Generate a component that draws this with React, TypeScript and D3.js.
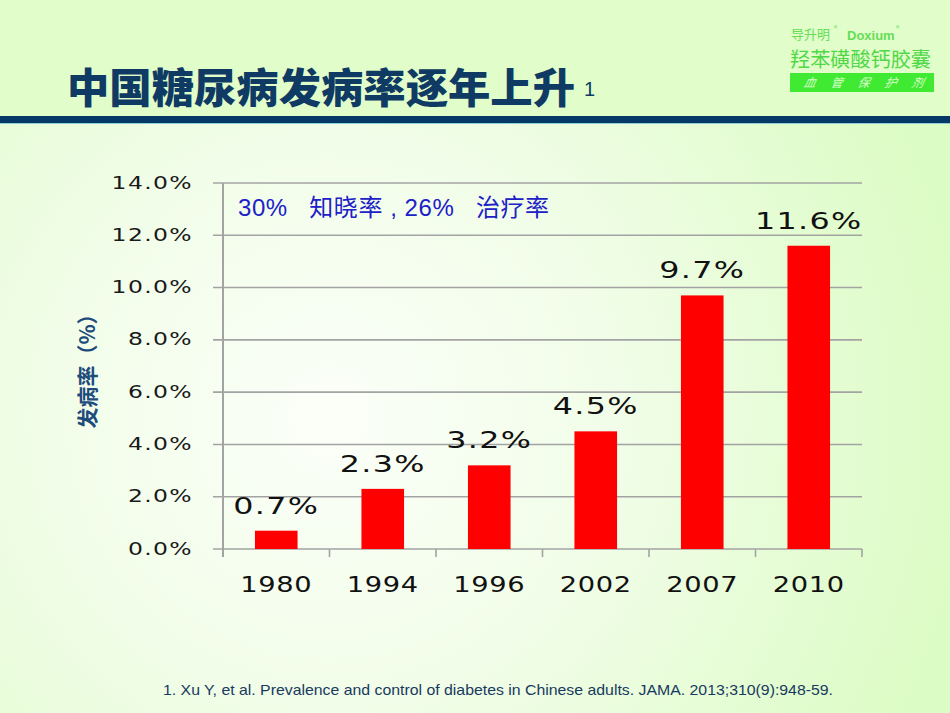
import * as React from "react"
import * as d3 from "d3"

const WIDTH = 950
const HEIGHT = 713

const years = ["1980", "1994", "1996", "2002", "2007", "2010"]
const rates = [0.7, 2.3, 3.2, 4.5, 9.7, 11.6]
const yTicks = [0, 2, 4, 6, 8, 10, 12, 14]
const badgeWords = ["血", "管", "保", "护", "剂"]

const NAVY = "#0e3a63"
const GRID = "#a3a3a3"
const CJK = "'Noto Sans CJK SC', sans-serif"
const NUM = "'DejaVu Sans', sans-serif"

const plot = { left: 223, right: 862, top: 183, bottom: 549 }

export default function App() {
  const chartRef = React.useRef<SVGGElement>(null)

  React.useEffect(() => {
    const g = d3.select(chartRef.current)
    g.selectAll("*").remove()

    const x = d3.scaleBand().domain(years).range([plot.left, plot.right])
    const y = d3.scaleLinear().domain([0, 14]).range([plot.bottom, plot.top])
    const step = x.step()
    const barW = step * 0.4

    // horizontal gridlines with short left ticks
    g.selectAll(".grid")
      .data(yTicks)
      .enter()
      .append("line")
      .attr("x1", plot.left - 10)
      .attr("x2", plot.right)
      .attr("y1", d => y(d))
      .attr("y2", d => y(d))
      .attr("stroke", GRID)
      .attr("stroke-width", 1.6)

    g.selectAll(".ylab")
      .data(yTicks)
      .enter()
      .append("text")
      .attr("transform", d => `translate(193,${y(d) + 5.5}) scale(1.38,1)`)
      .attr("text-anchor", "end")
      .attr("font-family", NUM)
      .attr("font-size", 17)
      .attr("letter-spacing", 1)
      .attr("fill", "#1a1a1a")
      .text(d => d.toFixed(1) + "%")

    // vertical axis
    g.append("line")
      .attr("x1", plot.left)
      .attr("x2", plot.left)
      .attr("y1", plot.top)
      .attr("y2", plot.bottom + 8)
      .attr("stroke", GRID)
      .attr("stroke-width", 2)

    // category boundary ticks below the baseline
    const bounds = years.map(d => x(d) as number).concat([plot.right])
    g.selectAll(".xtick")
      .data(bounds)
      .enter()
      .append("line")
      .attr("x1", d => d)
      .attr("x2", d => d)
      .attr("y1", plot.bottom)
      .attr("y2", plot.bottom + 8)
      .attr("stroke", GRID)
      .attr("stroke-width", 1.6)

    g.selectAll(".bar")
      .data(rates)
      .enter()
      .append("rect")
      .attr("x", (d, i) => (x(years[i]) as number) + (step - barW) / 2)
      .attr("y", d => y(d))
      .attr("width", barW)
      .attr("height", d => plot.bottom - y(d))
      .attr("fill", "#ff0000")

    g.selectAll(".val")
      .data(rates)
      .enter()
      .append("text")
      .attr("transform", (d, i) => `translate(${(x(years[i]) as number) + step / 2},${y(d) - 17}) scale(1.38,1)`)
      .attr("text-anchor", "middle")
      .attr("font-family", NUM)
      .attr("font-size", 23)
      .attr("letter-spacing", 1)
      .attr("fill", "#111")
      .text(d => d.toFixed(1) + "%")

    g.selectAll(".xlab")
      .data(years)
      .enter()
      .append("text")
      .attr("transform", d => `translate(${(x(d) as number) + step / 2},592) scale(1.3,1)`)
      .attr("text-anchor", "middle")
      .attr("font-family", NUM)
      .attr("font-size", 21)
      .attr("letter-spacing", 0.5)
      .attr("fill", "#111")
      .text(d => d)
  }, [])

  return (
    <svg
      width={WIDTH}
      height={HEIGHT}
      style={{ position: "absolute", left: 0, top: 0, display: "block" }}
    >
      <defs>
        <radialGradient id="bg" cx="330" cy="420" r="640" gradientUnits="userSpaceOnUse">
          <stop offset="0" stopColor="#fcfff9" />
          <stop offset="0.45" stopColor="#f1fde8" />
          <stop offset="1" stopColor="#dcfcc5" />
        </radialGradient>
      </defs>
      <rect width={WIDTH} height={HEIGHT} fill="url(#bg)" />
      <rect width={WIDTH} height={117} fill="#e0fdca" />

      {/* title */}
      <text
        x={67}
        y={103}
        fontFamily={CJK}
        fontWeight={900}
        fontSize={41}
        fill={NAVY}
        textLength={508}
        lengthAdjust="spacingAndGlyphs"
      >
        中国糖尿病发病率逐年上升
      </text>
      <text x={584} y={96} fontFamily="'Liberation Sans', sans-serif" fontSize={20} fill={NAVY}>
        1
      </text>
      <rect x={0} y={116} width={WIDTH} height={7} fill="#053865" />
      <rect x={0} y={123} width={WIDTH} height={1} fill="#8fd0d8" />

      {/* brand badge */}
      <g fontFamily={CJK}>
        <text x={791} y={39} fontSize={13} fill="#66dd55">
          导升明
        </text>
        <text x={834} y={31} fontSize={7} fill="#66dd55">®</text>
        <text x={847} y={40} fontFamily="'Liberation Sans', sans-serif" fontWeight={700} fontSize={13} fill="#66dd55">
          Doxium
        </text>
        <text x={896} y={31} fontSize={7} fill="#66dd55">®</text>
        <text x={790} y={67} fontSize={20} fill="#4fd845" textLength={141} lengthAdjust="spacingAndGlyphs">
          羟苯磺酸钙胶囊
        </text>
        <rect x={790} y={73} width={144} height={19} fill="#40ea33" />
        {badgeWords.map((w, i) => (
          <text
            key={w}
            x={809 + i * 27}
            y={87}
            textAnchor="middle"
            fontSize={12}
            fontStyle="italic"
            fill="#d8ffc8"
            transform={`skewX(-12)`}
            style={{ transformOrigin: `${809 + i * 27}px 87px` }}
          >
            {w}
          </text>
        ))}
      </g>

      <g ref={chartRef} />

      {/* awareness / treatment note */}
      <text
        x={238}
        y={216}
        fontFamily={`'Liberation Sans', ${CJK}`}
        fontSize={24}
        fill="#2020c8"
        xmlSpace="preserve"
        style={{ whiteSpace: "pre" }}
        textLength={311}
        lengthAdjust="spacing"
      >
        {"30%   知晓率 , 26%   治疗率"}
      </text>

      {/* y axis title */}
      <text
        transform="translate(86,366) rotate(-90)"
        textAnchor="middle"
        dominantBaseline="central"
        fontFamily={CJK}
        fontWeight={700}
        fontSize={21}
        fill="#1d4b7c"
      >
        发病率（%）
      </text>

      {/* reference */}
      <text
        x={163}
        y={695}
        fontFamily="'Liberation Sans', sans-serif"
        fontSize={14.5}
        fill="#173a5e"
        textLength={670}
        lengthAdjust="spacingAndGlyphs"
      >
        1. Xu Y, et al. Prevalence and control of diabetes in Chinese adults. JAMA. 2013;310(9):948-59.
      </text>
    </svg>
  )
}
